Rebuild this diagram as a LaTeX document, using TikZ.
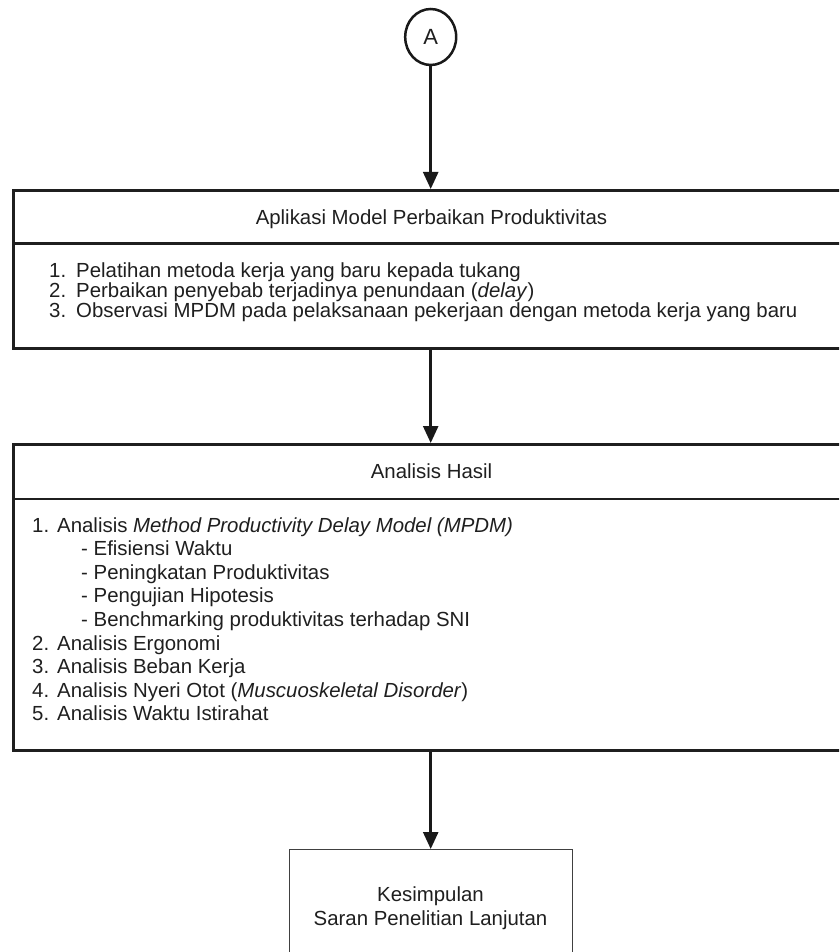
\documentclass[tikz,border=0pt]{standalone}
\usepackage{fontspec}
\setmainfont{Liberation Sans}
\usetikzlibrary{arrows.meta,shapes.geometric}
\begin{document}
\begin{tikzpicture}[x=1pt,y=-1pt,
  frame/.style={draw=black!88, line width=2.8pt, anchor=north west, inner sep=0pt},
  lbl/.style={anchor=base west, inner sep=0pt, font=\fontsize{20.4}{24}\selectfont, text=black!88},
  ttl/.style={anchor=base, inner sep=0pt, font=\fontsize{20.4}{24}\selectfont, text=black!88},
  divider/.style={draw=black!88, line width=2.2pt},
  flow/.style={draw=black!90, line width=2.5pt, -{Triangle[length=17pt,width=15pt]}},
]
\useasboundingbox (0,0) rectangle (839,952);
\clip (0,0) rectangle (839,952);

% connector symbol
\node[draw=black!90, ellipse, line width=2.5pt, minimum width=51pt, minimum height=56pt,
      inner sep=0pt, font=\fontsize{22}{26}\selectfont, text=black!88] (A) at (430.7,37) {A};

% box 1: application of the improvement model
\node[frame, minimum width=839pt, minimum height=158pt] (box1) at (12,189) {};
\draw[divider] ([yshift=-54.5pt]box1.north west) -- ([yshift=-54.5pt]box1.north east);
\node[ttl] (t1) at (431.5,224.5) {Aplikasi Model Perbaikan Produktivitas};
\node[lbl] (n11) at (49,277.5) {1.};
\node[lbl] (i11) at (76,277.5) {Pelatihan metoda kerja yang baru kepada tukang};
\node[lbl] (n12) at (49,297.5) {2.};
\node[lbl] (i12) at (76,297.5) {Perbaikan penyebab terjadinya penundaan (\textit{delay})};
\node[lbl] (n13) at (49,317.5) {3.};
\node[lbl] (i13) at (76,317.5) {Observasi MPDM pada pelaksanaan pekerjaan dengan metoda kerja yang baru};

% box 2: analysis of results
\node[frame, minimum width=839pt, minimum height=306pt] (box2) at (12,443) {};
\draw[divider] ([yshift=-56pt]box2.north west) -- ([yshift=-56pt]box2.north east);
\node[ttl] (t2) at (431.5,478) {Analisis Hasil};
\node[lbl] (n21) at (32,532)   {1.};
\node[lbl] (i21) at (57,532)   {Analisis \textit{Method Productivity Delay Model (MPDM)}};
\node[lbl] (s1)  at (81,555.6) {- Efisiensi Waktu};
\node[lbl] (s2)  at (81,579.2) {- Peningkatan Produktivitas};
\node[lbl] (s3)  at (81,602.8) {- Pengujian Hipotesis};
\node[lbl] (s4)  at (81,626.4) {- Benchmarking produktivitas terhadap SNI};
\node[lbl] (n22) at (32,650)   {2.};
\node[lbl] (i22) at (57,650)   {Analisis Ergonomi};
\node[lbl] (n23) at (32,673.6) {3.};
\node[lbl] (i23) at (57,673.6) {Analisis Beban Kerja};
\node[lbl] (n24) at (32,697.2) {4.};
\node[lbl] (i24) at (57,697.2) {Analisis Nyeri Otot (\textit{Muscuoskeletal Disorder})};
\node[lbl] (n25) at (32,720.8) {5.};
\node[lbl] (i25) at (57,720.8) {Analisis Waktu Istirahat};

% box 3: conclusion
\node[draw=black!75, line width=1.4pt, anchor=north west, inner sep=0pt,
      minimum width=283pt, minimum height=130pt] (box3) at (289,849) {};
\node[ttl] (c1) at (430.5,901) {Kesimpulan};
\node[ttl] (c2) at (430.5,925) {Saran Penelitian Lanjutan};

% connectors
\draw[flow] (A.south) -- (A.south |- box1.north);
\draw[flow] (A |- box1.south) -- (A |- box2.north);
\draw[flow] (A |- box2.south) -- (A |- box3.north);
\end{tikzpicture}
\end{document}
